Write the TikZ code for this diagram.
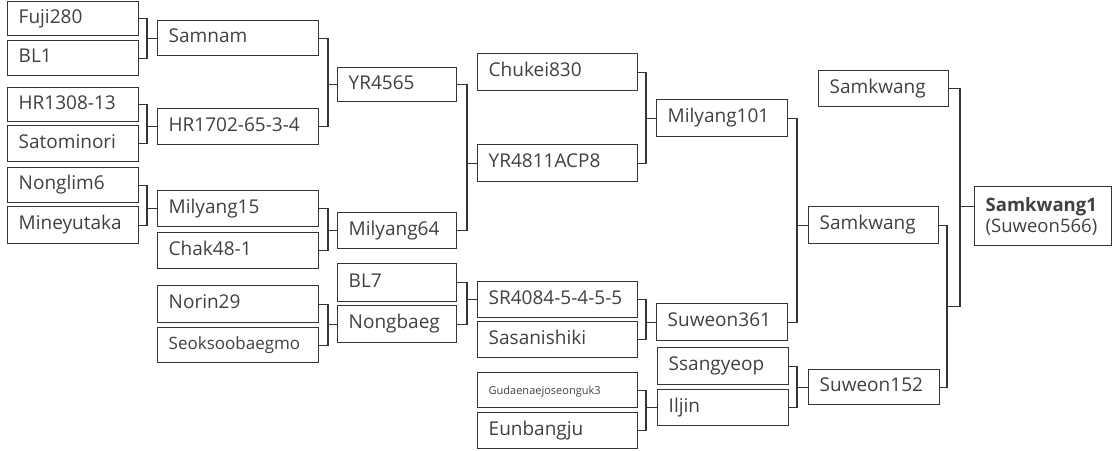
\documentclass[tikz,border=0pt]{standalone}
\usepackage{fontspec}
\setmainfont{Open Sans}
\usetikzlibrary{calc}
\definecolor{txt}{HTML}{404040}
\definecolor{ln}{HTML}{353535}
\tikzset{
  boxbase/.style={draw=ln, line width=1.4pt, rectangle, anchor=north west,
    inner xsep=11pt, inner ysep=0pt, align=left, text=txt,
    font=\fontsize{19}{22}\selectfont},
  box/.style={boxbase, text height=13.5pt, text depth=4.5pt},
  link/.style={draw=ln, line width=1.2pt},
}
\newcommand{\bx}[7][]{%
  \pgfmathsetmacro\bw{#5-#3}\pgfmathsetmacro\bh{#6-#4}\pgfmathsetmacro\tw{#5-#3-22}%
  \node[box,#1,minimum width=\bw pt,minimum height=\bh pt,text width=\tw pt] (#2) at (#3,#4) {#7};}
\newcommand{\brk}[4]{%
  \draw[link] (#1.east) -- (#1.east -| #4) |- (#2.east);
  \draw[link] (#3.west) -- (#3.west -| #4);}
\begin{document}
\begin{tikzpicture}[x=1pt,y=-1pt]
\useasboundingbox (0,0) rectangle (1116,450);
% junction columns
\coordinate (j1) at (147,0);
\coordinate (j2) at (328,0);
\coordinate (j3) at (467,0);
\coordinate (j4) at (646,0);
\coordinate (j5) at (797,0);
\coordinate (j6) at (947,0);
\coordinate (j7) at (960,0);
% column 1
\bx{fuji}{7}{1}{138}{35}{Fuji280}
\bx{bla}{7}{40}{138}{75}{BL1}
\bx{hra}{7}{87}{138}{121}{HR1308-13}
\bx{sato}{7}{125}{138}{161}{Satominori}
\bx{nong}{7}{167}{138}{202}{Nonglim6}
\bx{mine}{7}{206}{138}{243}{Mineyutaka}
% column 2
\bx{samnam}{157}{20}{318}{55}{Samnam}
\bx{hrb}{157}{108}{318}{144}{HR1702-65-3-4}
\bx{mila}{157}{190}{318}{226}{Milyang15}
\bx{chak}{157}{232}{318}{268}{Chak48-1}
\bx{norin}{157}{285}{318}{322}{Norin29}
\bx[font=\fontsize{17}{20}\selectfont]{seok}{157}{327}{318}{362}{Seoksoobaegmo}
% column 3
\bx{yra}{337}{67}{456}{101}{YR4565}
\bx{milb}{337}{212}{456}{248}{Milyang64}
\bx{blb}{337}{263}{456}{301}{BL7}
\bx{nongb}{337}{305}{456}{342}{Nongbaeg}
% column 4
\bx{chukei}{477}{53}{637}{90}{Chukei830}
\bx{yrb}{477}{144}{637}{181}{YR4811ACP8}
\bx{sr}{477}{281}{637}{317}{SR4084-5-4-5-5}
\bx{sasa}{477}{321}{637}{357}{Sasanishiki}
\bx[font=\fontsize{11}{13}\selectfont]{gudae}{477}{372}{637}{407}{Gudaenaejoseonguk3}
\bx{eunb}{477}{412}{637}{448}{Eunbangju}
% column 5
\bx{milc}{656}{99}{787}{136}{Milyang101}
\bx{swa}{656}{303}{787}{340}{Suweon361}
\bx{ssang}{657}{347}{788}{384}{Ssangyeop}
\bx{iljin}{657}{389}{788}{425}{Iljin}
% column 6
\bx{ska}{818}{70}{948}{106}{Samkwang}
\bx{skb}{808}{206}{938}{243}{Samkwang}
\bx{swb}{808}{369}{939}{404}{Suweon152}
% final
\node[boxbase, font=\fontsize{18.5}{21}\selectfont, minimum width=137pt, minimum height=59pt, text width=115pt] (fin) at (974,186) {\textbf{Samkwang1}\\(Suweon566)};
% brackets
\brk{fuji}{bla}{samnam}{j1}
\brk{hra}{sato}{hrb}{j1}
\brk{nong}{mine}{mila}{j1}
\brk{samnam}{hrb}{yra}{j2}
\brk{mila}{chak}{milb}{j2}
\brk{norin}{seok}{nongb}{j2}
\brk{yra}{milb}{yrb}{j3}
\brk{blb}{nongb}{sr}{j3}
\brk{chukei}{yrb}{milc}{j4}
\brk{sr}{sasa}{swa}{j4}
\brk{gudae}{eunb}{iljin}{j4}
\brk{milc}{swa}{skb}{j5}
\brk{ssang}{iljin}{swb}{j5}
\draw[link] (skb.east) -- (skb.east -| j6) |- (swb.east);
\coordinate (m) at ($(skb.east -| j6)!0.5!(swb.east -| j6)$);
\draw[link] (ska.east) -- (ska.east -| j7) -- (m -| j7) -- (m);
\draw[link] ([yshift=10pt]fin.west) -- ([yshift=10pt]fin.west -| j7);
\end{tikzpicture}
\end{document}
